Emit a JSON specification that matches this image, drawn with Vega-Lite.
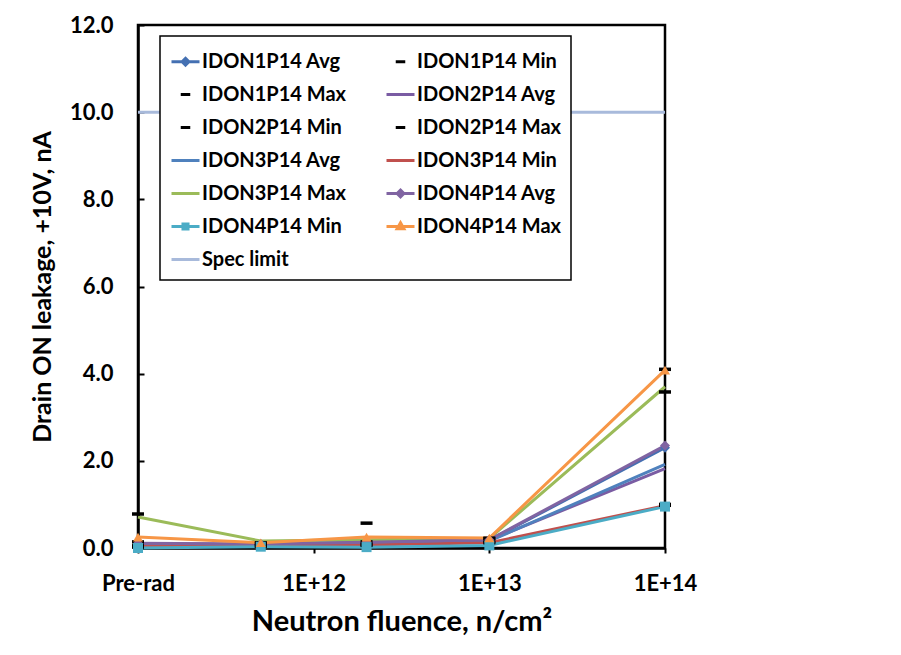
{
  "$schema": "https://vega.github.io/schema/vega-lite/v6.json",
  "width": 527,
  "height": 523,
  "autosize": {"type": "none"},
  "padding": {"left": 138, "top": 25, "right": 236, "bottom": 107},
  "background": "white",
  "config": {
    "view": {"stroke": "black", "strokeWidth": 2.5},
    "font": "Lato"
  },
  "data": {
    "values": [
      {"s": "IDON1P14 Avg", "x": 1e11, "y": 0.10},
      {"s": "IDON1P14 Avg", "x": 5e11, "y": 0.08},
      {"s": "IDON1P14 Avg", "x": 2e12, "y": 0.13},
      {"s": "IDON1P14 Avg", "x": 1e13, "y": 0.18},
      {"s": "IDON1P14 Avg", "x": 1e14, "y": 2.30},
      {"s": "IDON1P14 Min", "x": 1e11, "y": 0.05},
      {"s": "IDON1P14 Min", "x": 5e11, "y": 0.05},
      {"s": "IDON1P14 Min", "x": 2e12, "y": 0.08},
      {"s": "IDON1P14 Min", "x": 1e13, "y": 0.14},
      {"s": "IDON1P14 Min", "x": 1e14, "y": 0.98},
      {"s": "IDON1P14 Max", "x": 1e11, "y": 0.78},
      {"s": "IDON1P14 Max", "x": 5e11, "y": 0.12},
      {"s": "IDON1P14 Max", "x": 2e12, "y": 0.57},
      {"s": "IDON1P14 Max", "x": 1e13, "y": 0.22},
      {"s": "IDON1P14 Max", "x": 1e14, "y": 4.10},
      {"s": "IDON2P14 Avg", "x": 1e11, "y": 0.10},
      {"s": "IDON2P14 Avg", "x": 5e11, "y": 0.08},
      {"s": "IDON2P14 Avg", "x": 2e12, "y": 0.12},
      {"s": "IDON2P14 Avg", "x": 1e13, "y": 0.18},
      {"s": "IDON2P14 Avg", "x": 1e14, "y": 1.82},
      {"s": "IDON2P14 Min", "x": 1e11, "y": 0.02},
      {"s": "IDON2P14 Min", "x": 5e11, "y": 0.04},
      {"s": "IDON2P14 Min", "x": 2e12, "y": 0.06},
      {"s": "IDON2P14 Min", "x": 1e13, "y": 0.12},
      {"s": "IDON2P14 Min", "x": 1e14, "y": 1.00},
      {"s": "IDON2P14 Max", "x": 1e11, "y": 0.14},
      {"s": "IDON2P14 Max", "x": 5e11, "y": 0.10},
      {"s": "IDON2P14 Max", "x": 2e12, "y": 0.14},
      {"s": "IDON2P14 Max", "x": 1e13, "y": 0.22},
      {"s": "IDON2P14 Max", "x": 1e14, "y": 3.58},
      {"s": "IDON3P14 Avg", "x": 1e11, "y": 0.08},
      {"s": "IDON3P14 Avg", "x": 5e11, "y": 0.07},
      {"s": "IDON3P14 Avg", "x": 2e12, "y": 0.11},
      {"s": "IDON3P14 Avg", "x": 1e13, "y": 0.16},
      {"s": "IDON3P14 Avg", "x": 1e14, "y": 1.92},
      {"s": "IDON3P14 Min", "x": 1e11, "y": 0.04},
      {"s": "IDON3P14 Min", "x": 5e11, "y": 0.05},
      {"s": "IDON3P14 Min", "x": 2e12, "y": 0.07},
      {"s": "IDON3P14 Min", "x": 1e13, "y": 0.12},
      {"s": "IDON3P14 Min", "x": 1e14, "y": 0.97},
      {"s": "IDON3P14 Max", "x": 1e11, "y": 0.71},
      {"s": "IDON3P14 Max", "x": 5e11, "y": 0.16},
      {"s": "IDON3P14 Max", "x": 2e12, "y": 0.19},
      {"s": "IDON3P14 Max", "x": 1e13, "y": 0.22},
      {"s": "IDON3P14 Max", "x": 1e14, "y": 3.70},
      {"s": "IDON4P14 Avg", "x": 1e11, "y": 0.11},
      {"s": "IDON4P14 Avg", "x": 5e11, "y": 0.09},
      {"s": "IDON4P14 Avg", "x": 2e12, "y": 0.13},
      {"s": "IDON4P14 Avg", "x": 1e13, "y": 0.19},
      {"s": "IDON4P14 Avg", "x": 1e14, "y": 2.35},
      {"s": "IDON4P14 Min", "x": 1e11, "y": 0.00},
      {"s": "IDON4P14 Min", "x": 5e11, "y": 0.03},
      {"s": "IDON4P14 Min", "x": 2e12, "y": 0.02},
      {"s": "IDON4P14 Min", "x": 1e13, "y": 0.06},
      {"s": "IDON4P14 Min", "x": 1e14, "y": 0.95},
      {"s": "IDON4P14 Max", "x": 1e11, "y": 0.25},
      {"s": "IDON4P14 Max", "x": 5e11, "y": 0.12},
      {"s": "IDON4P14 Max", "x": 2e12, "y": 0.25},
      {"s": "IDON4P14 Max", "x": 1e13, "y": 0.23},
      {"s": "IDON4P14 Max", "x": 1e14, "y": 4.08},
      {"s": "Spec limit", "x": 1e11, "y": 10},
      {"s": "Spec limit", "x": 1e14, "y": 10}
    ]
  },
  "encoding": {
    "x": {
      "field": "x",
      "type": "quantitative",
      "scale": {"type": "log", "domain": [1e11, 1e14]},
      "axis": {
        "values": [1e11, 1e12, 1e13, 1e14],
        "labelExpr": "datum.value < 2e11 ? 'Pre-rad' : '1E+' + round(log(datum.value) / LN10)",
        "title": "Neutron fluence, n/cm²",
        "grid": false,
        "domainColor": "black",
        "domainWidth": 2.5,
        "tickColor": "black",
        "tickWidth": 2,
        "tickSize": 5,
        "labelFont": "Lato",
        "labelFontSize": 22,
        "labelFontWeight": "bold",
        "labelColor": "black",
        "labelPadding": 20,
        "labelFlush": false,
        "labelOverlap": false,
        "titleFont": "Lato",
        "titleFontSize": 29,
        "titleFontWeight": "bold",
        "titleColor": "black",
        "titlePadding": 13
      }
    },
    "y": {
      "field": "y",
      "type": "quantitative",
      "scale": {"domain": [0, 12], "nice": false},
      "axis": {
        "values": [0, 2, 4, 6, 8, 10, 12],
        "format": ".1f",
        "title": "Drain ON leakage, +10V, nA",
        "grid": false,
        "domainColor": "black",
        "domainWidth": 2.5,
        "tickColor": "black",
        "tickWidth": 2,
        "tickSize": -6,
        "labelFont": "Lato",
        "labelFontSize": 22,
        "labelFontWeight": "bold",
        "labelColor": "black",
        "labelPadding": 31,
        "labelFlush": false,
        "titleFont": "Lato",
        "titleFontSize": 25,
        "titleFontWeight": "bold",
        "titleColor": "black",
        "titlePadding": 14
      }
    },
    "color": {
      "field": "s",
      "type": "nominal",
      "scale": {
        "domain": ["IDON1P14 Avg", "IDON1P14 Max", "IDON2P14 Min", "IDON3P14 Avg", "IDON3P14 Max", "IDON4P14 Min", "Spec limit", "IDON1P14 Min", "IDON2P14 Avg", "IDON2P14 Max", "IDON3P14 Min", "IDON4P14 Avg", "IDON4P14 Max"],
        "range": ["#4470B2", "#000000", "#000000", "#4F81BD", "#9BBB59", "#4BACC6", "#A8BADB", "#000000", "#7A5CA3", "#000000", "#C0504D", "#8064A2", "#F79646"]
      },
      "legend": {
        "orient": "none",
        "legendX": 22,
        "legendY": 11,
        "columns": 2,
        "title": null,
        "fillColor": "white",
        "strokeColor": "black",
        "padding": 10,
        "rowPadding": 7,
        "columnPadding": 34,
        "symbolSize": 784,
        "symbolStrokeWidth": 3,
        "labelOffset": 1,
        "labelFont": "Lato",
        "labelFontSize": 20,
        "labelFontWeight": "bold",
        "labelColor": "black",
        "labelLimit": 300,
        "encode": {
          "legend": {"update": {"strokeWidth": {"value": 1.5}}},
          "symbols": {
            "update": {
              "shape": {"signal": "(datum.value == 'IDON1P14 Avg' || datum.value == 'IDON4P14 Avg') ? 'M-1,0H1M0,-0.24L0.24,0L0,0.24L-0.24,0Z' : datum.value == 'IDON4P14 Min' ? 'M-1,0H1M-0.18,-0.18H0.18V0.18H-0.18Z' : datum.value == 'IDON4P14 Max' ? 'M-1,0H1M0,-0.26L0.24,0.16H-0.24Z' : indexof(['IDON1P14 Min','IDON1P14 Max','IDON2P14 Min','IDON2P14 Max'], datum.value) >= 0 ? 'M-0.34,0H0.34' : 'M-1,0H1'"},
              "fill": {"signal": "scale('color', datum.value)"},
              "stroke": {"signal": "scale('color', datum.value)"},
              "strokeWidth": {"value": 3},
              "opacity": {"value": 1}
            }
          }
        }
      }
    }
  },
  "layer": [
    {
      "transform": [{"filter": "indexof(['IDON1P14 Min','IDON1P14 Max','IDON2P14 Min','IDON2P14 Max'], datum.s) < 0"}],
      "mark": {"type": "line", "strokeWidth": 3}
    },
    {
      "transform": [{"filter": "indexof(['IDON2P14 Avg','IDON3P14 Avg','IDON3P14 Min','IDON3P14 Max','Spec limit'], datum.s) < 0"}],
      "mark": {"type": "point", "filled": true, "opacity": 1, "size": 100},
      "encoding": {
        "shape": {
          "field": "s",
          "type": "nominal",
          "scale": {
            "domain": ["IDON1P14 Avg", "IDON1P14 Min", "IDON1P14 Max", "IDON2P14 Min", "IDON2P14 Max", "IDON4P14 Avg", "IDON4P14 Min", "IDON4P14 Max"],
            "range": ["diamond", "M-1.2,-0.35H1.2V0.35H-1.2Z", "M-1.2,-0.35H1.2V0.35H-1.2Z", "M-1.2,-0.35H1.2V0.35H-1.2Z", "M-1.2,-0.35H1.2V0.35H-1.2Z", "diamond", "square", "triangle-up"]
          },
          "legend": null
        }
      }
    }
  ]
}
